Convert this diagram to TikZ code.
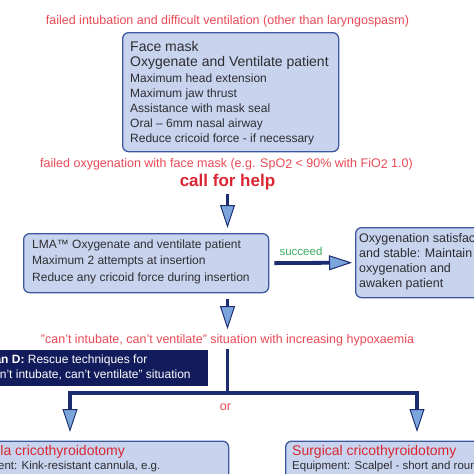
\documentclass[tikz,border=0pt]{standalone}
\usepackage{fontspec}
\setmainfont{Liberation Sans}
\usetikzlibrary{arrows.meta}
\definecolor{boxfill}{RGB}{200,212,238}
\definecolor{boxline}{RGB}{62,88,160}
\definecolor{navy}{RGB}{28,44,112}
\definecolor{headfill}{RGB}{122,166,220}
\definecolor{planfill}{RGB}{18,28,92}
\definecolor{lightred}{RGB}{232,72,84}
\definecolor{helpred}{RGB}{218,38,50}
\definecolor{succgreen}{RGB}{60,170,95}
\definecolor{bodytext}{RGB}{45,45,50}
\begin{document}
\begin{tikzpicture}[x=1pt,y=-1pt,
  box/.style={draw=boxline, fill=boxfill, line width=1.3pt, rounded corners=6pt, anchor=north west, inner sep=0pt},
  planbox/.style={fill=planfill, anchor=north west, inner sep=0pt},
  txt/.style={anchor=base west, inner sep=0pt, text=bodytext, font=\fontsize{12}{14}\selectfont},
  hdr/.style={anchor=base west, inner sep=0pt, text=bodytext, font=\fontsize{14}{16}\selectfont},
  redhdr/.style={anchor=base west, inner sep=0pt, text=helpred, font=\fontsize{14}{16}\selectfont},
  whitetxt/.style={anchor=base west, inner sep=0pt, text=white, font=\fontsize{12}{14}\selectfont},
  redtxt/.style={anchor=base, inner sep=0pt, text=lightred, font=\fontsize{12.5}{15}\selectfont},
  helptxt/.style={anchor=base, inner sep=0pt, text=helpred, font=\fontsize{17}{20}\selectfont\bfseries},
  succ/.style={anchor=base, inner sep=0pt, text=succgreen, font=\fontsize{11.5}{13}\selectfont},
  stem/.style={draw=navy, line width=3.8pt},
  blockarrow/.style={draw=navy, line width=3.8pt, -{Triangle[width=15pt,length=23pt,line width=1pt,fill=headfill]}}
]
\useasboundingbox (0,0) rectangle (474,474);
\clip (0,0) rectangle (474,474);

% top condition
\node[redtxt] (fail1) at (227.5,24) {failed intubation and difficult ventilation (other than laryngospasm)};

% face mask box
\node[box, minimum width=216pt, minimum height=119pt] (face) at (122,32) {};
\node[hdr] (fm1) at (130,51) {Face mask};
\node[hdr] (fm2) at (130,66.5) {Oxygenate and Ventilate patient};
\node[txt] (fm3) at (130,82) {Maximum head extension};
\node[txt] (fm4) at (130,97) {Maximum jaw thrust};
\node[txt] (fm5) at (130,112.3) {Assistance with mask seal};
\node[txt] (fm6) at (130,127.7) {Oral – 6mm nasal airway};
\node[txt] (fm7) at (130,142.5) {Reduce cricoid force - if necessary};

\node[redtxt] (fail2) at (226.5,167.3) {failed oxygenation with face mask (e.g. SpO\raisebox{-1.5pt}{2} < 90\% with FiO\raisebox{-1.5pt}{2} 1.0)};
\node[helptxt] (help) at (227.5,186.5) {call for help};

% LMA box
\node[box, minimum width=245pt, minimum height=59pt] (lma) at (23,233) {};
\node[txt] (l1) at (32,248.3) {LMA™ Oxygenate and ventilate patient};
\node[txt] (l2) at (32,264.8) {Maximum 2 attempts at insertion};
\node[txt] (l3) at (32,281) {Reduce any cricoid force during insertion};

% success box
\node[box, minimum width=140pt, minimum height=70pt] (ok) at (355,227) {};
\node[txt, font=\fontsize{12.5}{14}\selectfont] (o1) at (359,242) {Oxygenation satisfactory};
\node[txt, font=\fontsize{12.5}{14}\selectfont] (o2) at (359,257) {and stable: Maintain};
\node[txt, font=\fontsize{12.5}{14}\selectfont] (o3) at (359,272) {oxygenation and};
\node[txt, font=\fontsize{12.5}{14}\selectfont] (o4) at (359,287) {awaken patient};

\draw[blockarrow, shorten <=4pt, shorten >=5pt] (help.south) -- (help.south |- lma.north);
\draw[blockarrow, shorten <=5pt, shorten >=3pt] (lma.east) -- (ok.west)
  node[succ, pos=0.37, yshift=7.5pt] (succeed) {succeed};

\node[redtxt] (cant) at (227.5,343.5) {\symbol{34}can't intubate, can't ventilate\symbol{34} situation with increasing hypoxaemia};
\draw[blockarrow, shorten <=5.5pt, shorten >=5pt] (lma.south -| help.south) -- (cant.north -| help.south);

% plan D box
\node[planbox, minimum width=230pt, minimum height=36pt] (pland) at (-22,350) {};
\node[whitetxt] (p1) at (-17,363.3) {\textbf{Plan D:} Rescue techniques for};
\node[whitetxt] (p2) at (-17,378.3) {\symbol{34}can't intubate, can't ventilate\symbol{34} situation};

% bottom boxes
\node[box, minimum width=250pt, minimum height=60pt] (cannula) at (-22,440.5) {};
\node[redhdr] (c1) at (-41,455) {Cannula cricothyroidotomy};
\node[txt, font=\fontsize{11.5}{13}\selectfont] (c2) at (-41,469.5) {Equipment: Kink-resistant cannula, e.g.};
\node[box, minimum width=220pt, minimum height=60pt] (surgical) at (285,440.5) {};
\node[redhdr] (s1) at (292,455) {Surgical cricothyroidotomy};
\node[txt, font=\fontsize{11.5}{13}\selectfont] (s2) at (292,469.5) {Equipment: Scalpel - short and rounded};

% branching
\coordinate (jc) at (227.5,393);
\coordinate (jl) at (70,393);
\coordinate (jr) at (417,393);
\draw[stem, shorten <=3pt] (cant.south -| jc) -- (jc);
\draw[blockarrow, shorten >=8.5pt] (jc) -| (jl |- cannula.north);
\draw[blockarrow, shorten >=8.5pt] (jc) -| (jr |- surgical.north);
\node[anchor=base, inner sep=0pt, text=lightred, font=\fontsize{12.5}{15}\selectfont] (or) at (225.5,410.7) {or};
\end{tikzpicture}
\end{document}
